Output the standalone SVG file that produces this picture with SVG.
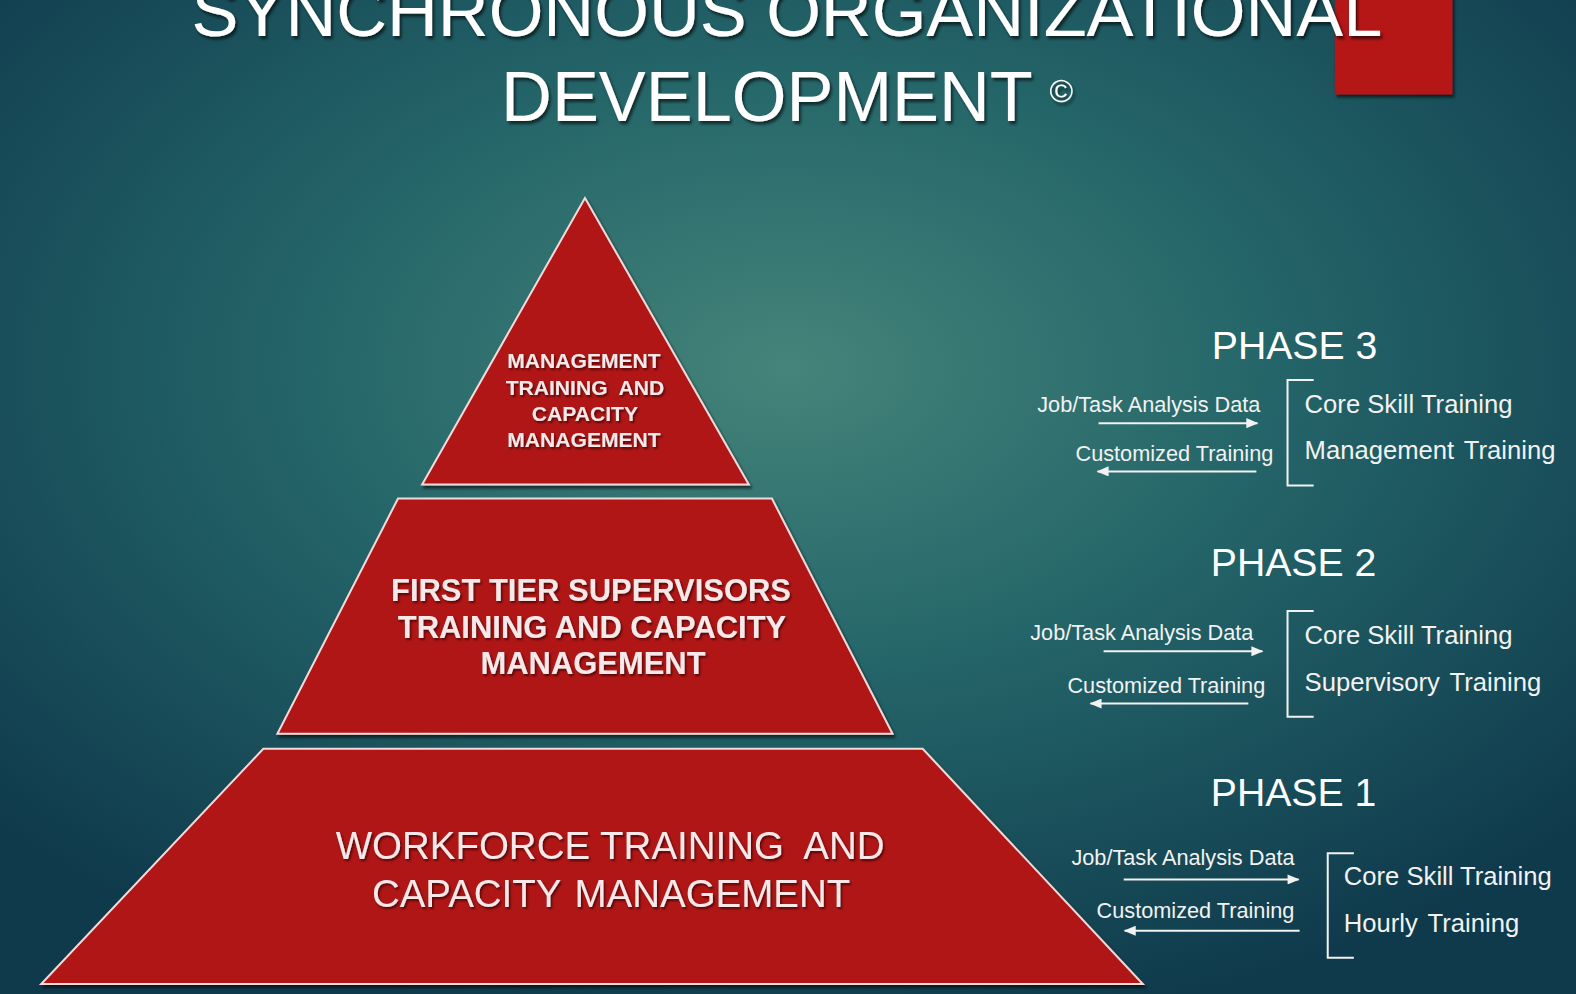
<svg xmlns="http://www.w3.org/2000/svg" width="1576" height="994" viewBox="0 0 1576 994">
  <defs>
    <radialGradient id="bg" cx="50%" cy="37%" r="68%">
      <stop offset="0" stop-color="#44847a"/>
      <stop offset="0.45" stop-color="#246569"/>
      <stop offset="1" stop-color="#0f3a4c"/>
    </radialGradient>
    <filter id="shadow" x="-10%" y="-10%" width="120%" height="130%">
      <feDropShadow dx="2" dy="3" stdDeviation="1.5" flood-color="#000" flood-opacity="0.6"/>
    </filter>
    <filter id="tshadow" x="-5%" y="-20%" width="110%" height="140%">
      <feDropShadow dx="1.5" dy="2" stdDeviation="1" flood-color="#3a0000" flood-opacity="0.75"/>
    </filter>
    <marker id="ah" viewBox="0 0 12 10" refX="11" refY="5" markerWidth="13" markerHeight="10" markerUnits="userSpaceOnUse" orient="auto-start-reverse">
      <path d="M0,0 L12,5 L0,10 Z" fill="#f2f2f2"/>
    </marker>
    <style>
      .title { font-family: "Liberation Sans", Arial, sans-serif; font-size: 70px; fill: #ffffff; text-anchor: middle; }
      .tier { fill: #b01414; stroke: #f3dada; stroke-width: 2; }
      .tt { font-family: "Liberation Sans", Arial, sans-serif; fill: #f7e9e9; text-anchor: middle; }
      .b { font-weight: bold; }
      .phase { font-family: "Liberation Sans", Arial, sans-serif; font-size: 39px; fill: #ffffff; text-anchor: middle; }
      .small { font-family: "Liberation Sans", Arial, sans-serif; font-size: 21.6px; fill: #f2f2f2; }
      .big { font-family: "Liberation Sans", Arial, sans-serif; font-size: 25.5px; fill: #f2f2f2; }
      .ws { word-spacing: 3px; }
      .arrow { stroke: #f2f2f2; stroke-width: 2; fill: none; }
      .bracket { stroke: #f2f2f2; stroke-width: 2; fill: none; }
    </style>
  </defs>

  <rect x="0" y="0" width="1576" height="994" fill="url(#bg)"/>

  <g transform="scale(1.0051)">
  <g id="corner-rect">
    <rect x="1328" y="-4" width="117" height="98" fill="#b51515" filter="url(#shadow)"/>
  </g>

  <g id="title" filter="url(#shadow)">
    <text class="title" x="783" y="36">SYNCHRONOUS ORGANIZATIONAL</text>
    <text class="title" x="763" y="120">DEVELOPMENT</text>
    <text x="1056" y="101" font-family="Liberation Sans, Arial, sans-serif" font-size="32" fill="#ffffff" text-anchor="middle">©</text>
  </g>

  <g id="tier-top">
    <polygon class="tier" points="582,197 420,482 745,482" filter="url(#shadow)"/>
    <g class="tt b" font-size="21" filter="url(#tshadow)">
      <text x="581" y="366">MANAGEMENT</text>
      <text x="582" y="393" xml:space="preserve">TRAINING  AND</text>
      <text x="582" y="419">CAPACITY</text>
      <text x="581" y="445">MANAGEMENT</text>
    </g>
  </g>

  <g id="tier-mid">
    <polygon class="tier" points="396,496 768,496 888,730 276,730" filter="url(#shadow)"/>
    <g class="tt b" font-size="30.8" filter="url(#tshadow)">
      <text x="588" y="598">FIRST TIER SUPERVISORS</text>
      <text x="589" y="635">TRAINING AND CAPACITY</text>
      <text x="590" y="671">MANAGEMENT</text>
    </g>
  </g>

  <g id="tier-bottom">
    <polygon class="tier" points="262,745 918,745 1137,979 41,979" filter="url(#shadow)"/>
    <g class="tt" font-size="38.3" filter="url(#tshadow)">
      <text x="607" y="855" xml:space="preserve">WORKFORCE TRAINING  AND</text>
      <text class="ws" x="608" y="902">CAPACITY MANAGEMENT</text>
    </g>
  </g>

  <g id="phase3">
    <text class="phase" x="1288" y="357">PHASE 3</text>
    <text class="small" x="1032" y="410">Job/Task Analysis Data</text>
    <text class="small" x="1070" y="459">Customized Training</text>
    <text class="big" x="1298" y="411">Core Skill Training</text>
    <text class="big ws" x="1298" y="457">Management Training</text>
  </g>

  <g id="phase2">
    <text class="phase" x="1287" y="573">PHASE 2</text>
    <text class="small" x="1025" y="637">Job/Task Analysis Data</text>
    <text class="small" x="1062" y="689">Customized Training</text>
    <text class="big" x="1298" y="641">Core Skill Training</text>
    <text class="big ws" x="1298" y="687">Supervisory Training</text>
  </g>

  <g id="phase1">
    <text class="phase" x="1287" y="802">PHASE 1</text>
    <text class="small" x="1066" y="861">Job/Task Analysis Data</text>
    <text class="small" x="1091" y="913">Customized Training</text>
    <text class="big" x="1337" y="881">Core Skill Training</text>
    <text class="big ws" x="1337" y="927">Hourly Training</text>
  </g>

  <g id="connectors">
    <line class="arrow" x1="1093" y1="421" x2="1251" y2="421" marker-end="url(#ah)"/>
    <line class="arrow" x1="1250" y1="469" x2="1092" y2="469" marker-end="url(#ah)"/>
    <line class="arrow" x1="1098" y1="648" x2="1256" y2="648" marker-end="url(#ah)"/>
    <line class="arrow" x1="1242" y1="700" x2="1085" y2="700" marker-end="url(#ah)"/>
    <line class="arrow" x1="1118" y1="875" x2="1292" y2="875" marker-end="url(#ah)"/>
    <line class="arrow" x1="1293" y1="926" x2="1119" y2="926" marker-end="url(#ah)"/>
    <path class="bracket" d="M1307,378 H1281 V483 H1307"/>
    <path class="bracket" d="M1307,608 H1281 V713 H1307"/>
    <path class="bracket" d="M1347,849 H1321 V953 H1347"/>
  </g>
  </g>
</svg>
